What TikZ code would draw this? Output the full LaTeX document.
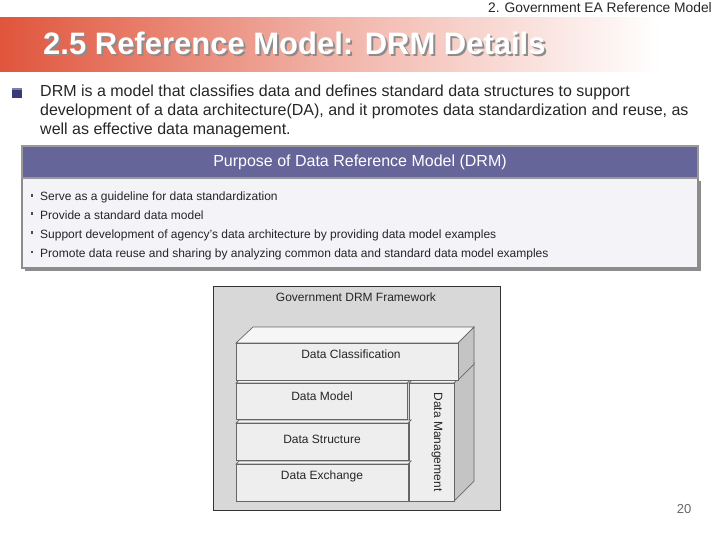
\documentclass[tikz,border=0pt]{standalone}
\usepackage{fontspec}
\setmainfont{Liberation Sans}
\definecolor{titlered}{HTML}{E0553C}
\definecolor{hdrpurple}{HTML}{65659A}
\definecolor{boxbg}{HTML}{F3F3F8}
\definecolor{framebg}{HTML}{D8D8D8}
\definecolor{facefront}{HTML}{EEEEEE}
\definecolor{facetop}{HTML}{F6F6F6}
\definecolor{faceside}{HTML}{C4C4C4}
\definecolor{edge}{HTML}{666666}
\definecolor{bulletblue}{HTML}{3A3A7A}
\tikzset{
  bodytext/.style={anchor=base west, inner sep=0pt, font=\fontsize{16}{18}\selectfont, text=black!85},
  listtext/.style={anchor=base west, inner sep=0pt, font=\fontsize{12}{14}\selectfont, text=black!85},
  facebox/.style={draw=edge, line width=0.7pt, fill=facefront},
  facetopst/.style={draw=edge, line width=0.7pt, fill=facetop},
  facesidest/.style={draw=edge, line width=0.7pt, fill=faceside},
  boxlabel/.style={font=\fontsize{12}{14}\selectfont, text=black!85, inner sep=0pt},
}
\begin{document}
\begin{tikzpicture}[x=1pt,y=-1pt]
\useasboundingbox (0,0) rectangle (720,540);
\fill[white] (0,0) rectangle (720,540);
% title band
\shade[left color=titlered, right color=white, middle color=titlered!45] (0,18) rectangle (660,72);
\node[anchor=base east, inner sep=0pt, font=\fontsize{13.8}{15}\selectfont, text=black!85] (section) at (712,13) {2. Government EA Reference Model};
\node[anchor=base west, inner sep=0pt, font=\fontsize{31}{34}\selectfont\bfseries, text=white] (title) at (43,55)
  {\makebox[0pt][l]{\hspace{2pt}\raisebox{-2pt}{\color{black!45}2.5 Reference Model: DRM Details}}2.5 Reference Model: DRM Details};
% intro bullet
\fill[bulletblue] (12,88) rectangle (22,98);
\fill[white, opacity=0.35] (12,88) rectangle (22,90);
\node[bodytext] (intro1) at (40,97) {DRM is a model that classifies data and defines standard data structures to support};
\node[bodytext] (intro2) at (40,116) {development of a data architecture(DA), and it promotes data standardization and reuse, as};
\node[bodytext] (intro3) at (40,135) {well as effective data management.};
% purpose header
\fill[black!45] (25,181) rectangle (701,271);
\draw[black!45, line width=1.2pt, fill=boxbg] (22,178) rectangle (698,268);
\draw[black!40, line width=1.5pt, fill=hdrpurple] (22,146) rectangle (698,178);
\node[font=\fontsize{16}{18}\selectfont, text=white, inner sep=0pt] (purpose) at (360,162) {Purpose of Data Reference Model (DRM)};
\foreach \y/\t [count=\i] in {201/{Serve as a guideline for data standardization},
  219/{Provide a standard data model},
  238/{Support development of agency's data architecture by providing data model examples},
  257/{Promote data reuse and sharing by analyzing common data and standard data model examples}}{
  \fill[black!70] (30.5,\y-6.5) rectangle (33,\y-4);
  \node[listtext] (item\i) at (40,\y) {\t};
}
% framework
\draw[black!80, line width=0.8pt, fill=framebg] (213,286) rectangle (500,510);
\node[font=\fontsize{12}{14}\selectfont, text=black!85, inner sep=0pt] (fwtitle) at (356,297) {Government DRM Framework};
% Data Management (behind)
\filldraw[facetopst] (409,383) -- (429,363) -- (474,363) -- (454,383) -- cycle;
\filldraw[facesidest] (454,383) -- (474,363) -- (474,481) -- (454,501) -- cycle;
\filldraw[facebox] (409,383) rectangle (454,501);
\node[boxlabel, rotate=-90] (dm) at (437,442) {Data Management};
% lower boxes
\filldraw[facetopst] (236,383) -- (239,380) -- (410,380) -- (407,383) -- cycle;
\filldraw[facebox] (236,383) rectangle (407,419);
\node[boxlabel] (model) at (322,396) {Data Model};
\filldraw[facetopst] (236,423) -- (239,420) -- (411,420) -- (408,423) -- cycle;
\filldraw[facebox] (236,423) rectangle (408,460);
\node[boxlabel] (structure) at (322,439) {Data Structure};
\filldraw[facetopst] (236,464) -- (239,461) -- (411,461) -- (408,464) -- cycle;
\filldraw[facebox] (236,464) rectangle (408,501);
\node[boxlabel] (exchange) at (322,476) {Data Exchange};
% Data Classification
\filldraw[facetopst] (236,343) -- (253,327) -- (474,327) -- (458,343) -- cycle;
\filldraw[facesidest] (458,343) -- (474,327) -- (474,364) -- (458,380) -- cycle;
\filldraw[facebox] (236,343) rectangle (458,380);
\node[boxlabel] (classif) at (351,354) {Data Classification};
% page number
\node[font=\fontsize{13}{15}\selectfont, text=black!60, inner sep=0pt] (page) at (684,509) {20};
\end{tikzpicture}
\end{document}
